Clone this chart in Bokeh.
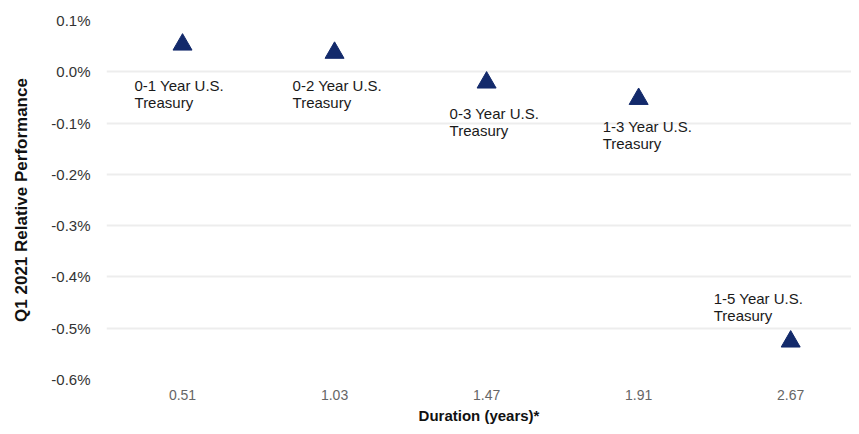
from bokeh.plotting import figure
from bokeh.models import ColumnDataSource, Range1d, FixedTicker, PrintfTickFormatter
from bokeh.core.properties import value
from bokeh.embed import file_html
from bokeh.resources import INLINE

# ---- data ----
durations = ["0.51", "1.03", "1.47", "1.91", "2.67"]
funds = [
    "0-1 Year U.S.\nTreasury",
    "0-2 Year U.S.\nTreasury",
    "0-3 Year U.S.\nTreasury",
    "1-3 Year U.S.\nTreasury",
    "1-5 Year U.S.\nTreasury",
]
performance = [0.053, 0.037, -0.021, -0.053, -0.526]  # percent
y_ticks = [-0.6, -0.5, -0.4, -0.3, -0.2, -0.1, 0.0, 0.1]
x_title = "Duration (years)*"
y_title = "Q1 2021 Relative Performance"

# ---- label placement (screen pixels, layout only) ----
label_dx = [-48, -42, -37, -36, -77]
label_dy = [32, 24, 22, 19.5, -51.5]

positions = list(range(len(durations)))
FONT = value("Liberation Sans")

src = ColumnDataSource(dict(x=positions, perf=performance, label=funds,
                            dx=label_dx, dy=label_dy))

p = figure(width=851, height=426, output_backend="svg", toolbar_location=None,
           x_range=Range1d(-0.5, len(durations) - 0.6),
           y_range=Range1d(min(y_ticks), max(y_ticks)),
           min_border_left=106, min_border_right=0, min_border_top=20,
           min_border_bottom=46)
p.outline_line_color = None
p.background_fill_color = "white"
p.border_fill_color = "white"

p.xgrid.visible = False
p.ygrid.ticker = FixedTicker(ticks=y_ticks)
p.ygrid.grid_line_color = "#ededed"
p.ygrid.grid_line_width = 2

# axes
for ax in (p.xaxis[0], p.yaxis[0]):
    ax.axis_line_color = None
    ax.major_tick_line_color = None
    ax.minor_tick_line_color = None
    ax.major_tick_out = 0
    ax.major_tick_in = 0
    ax.minor_tick_out = 0
    ax.major_label_text_font = "Liberation Sans"
    ax.axis_label_text_font = "Liberation Sans"
    ax.axis_label_text_font_style = "bold"
    ax.axis_label_text_color = "#111111"

p.xaxis.ticker = FixedTicker(ticks=positions)
p.xaxis.major_label_overrides = {i: d for i, d in zip(positions, durations)}
p.xaxis.major_label_text_font_size = "14px"
p.xaxis.major_label_text_color = "#666666"
p.xaxis.major_label_standoff = 10
p.xaxis.axis_label = x_title
p.xaxis.axis_label_text_font_size = "15px"
p.xaxis.axis_label_standoff = 4

p.yaxis.ticker = FixedTicker(ticks=y_ticks)
p.yaxis.formatter = PrintfTickFormatter(format="%.1f%%")
p.yaxis.major_label_text_font_size = "15px"
p.yaxis.major_label_text_color = "#333333"
p.yaxis.major_label_standoff = 16
p.yaxis.axis_label = y_title
p.yaxis.axis_label_text_font_size = "17px"
p.yaxis.axis_label_standoff = 17

p.scatter(x="x", y="perf", source=src, marker="triangle", size=19,
          fill_color="#132a6b", line_color="#132a6b")

p.text(x="x", y="perf", text="label", source=src, x_offset="dx", y_offset="dy",
       text_font=FONT, text_font_size="15px", text_color="#1a1a1a",
       text_align="left", text_baseline="top", text_line_height=1.0)

open("out.html", "w").write(file_html(p, INLINE))
